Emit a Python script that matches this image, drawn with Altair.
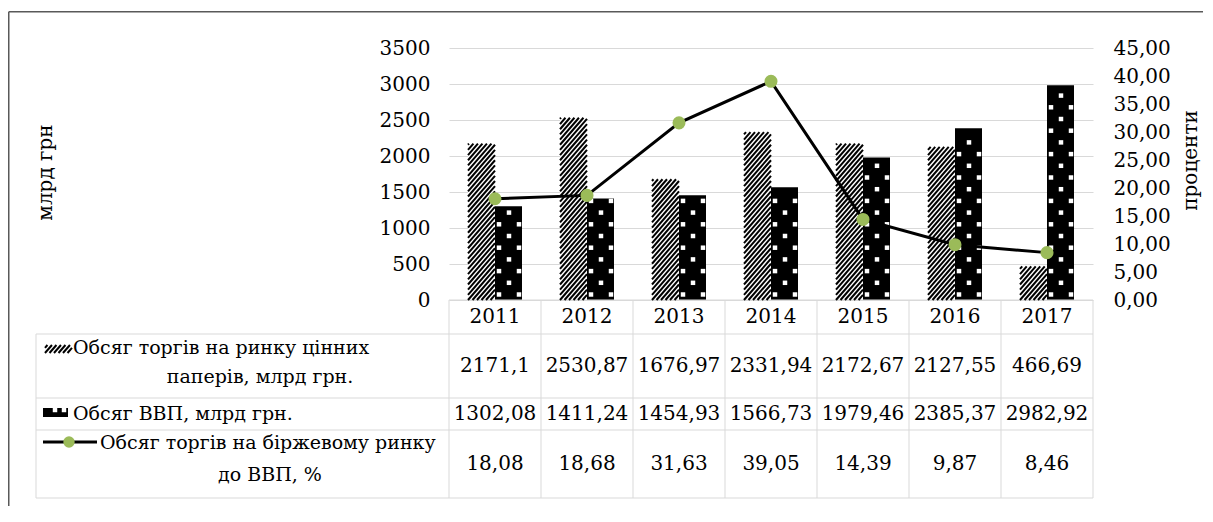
import math
import altair as alt
import pandas as pd

# ---------------- data ----------------
years = ["2011", "2012", "2013", "2014", "2015", "2016", "2017"]
securities = [2171.1, 2530.87, 1676.97, 2331.94, 2172.67, 2127.55, 466.69]
gdp = [1302.08, 1411.24, 1454.93, 1566.73, 1979.46, 2385.37, 2982.92]
ratio = [18.08, 18.68, 31.63, 39.05, 14.39, 9.87, 8.46]
left_ticks = [0, 500, 1000, 1500, 2000, 2500, 3000, 3500]
right_ticks = [0, 5, 10, 15, 20, 25, 30, 35, 40, 45]
label_sec = ["Обсяг торгів на ринку цінних", "паперів, млрд грн."]
label_gdp = ["Обсяг ВВП, млрд грн."]
label_ratio = ["Обсяг торгів на біржевому ринку", "до ВВП, %"]
title_left = "млрд грн"
title_right = "проценти"

# ---------------- layout (pixels relative to the plot area's top-left) ----------------
N = len(years)
COL = 92.0
PW = COL * N
PH = 252.0
YMAX = left_ticks[-1]
PMAX = right_ticks[-1]
BAR_W = 27.0
FONT = "DejaVu Serif"
FS = 20
FS_LBL = 19
GRID = "#D9D9D9"
GREEN = "#9BBB59"
FRAME = "#595959"


def ux(px):
    return px / COL


def uy(py):
    return (PH - py) * YMAX / PH


def hatch(left, top, w, h, period=4.5, slope=1.15):
    segs = []
    c = math.floor((-h / slope) / period) * period
    bottom = top + h
    while c < w:
        xa = max(0.0, c)
        xb = min(w, c + h / slope)
        if xb > xa + 0.05:
            segs.append((left + xa, bottom - slope * (xa - c), left + xb, bottom - slope * (xb - c)))
        c += period
    return segs


def dots(left, top, w, h, dy=11.7, start=5.5):
    pts = []
    k, u = 0, start
    while u <= h - 2.5:
        offs = (4.0, 24.0) if k % 2 == 0 else (14.0,)
        for o in offs:
            if o <= w - 2.5:
                pts.append((left + o, top + h - u))
        k += 1
        u += dy
    return pts


bar_rows = []
hatch_rows = []
dot_rows = []
for i, (yr, s, g) in enumerate(zip(years, securities, gdp)):
    c = i + 0.5
    bar_rows.append(dict(year=yr, series="sec", x0=c - BAR_W / COL, x1=c, v=s))
    bar_rows.append(dict(year=yr, series="gdp", x0=c, x1=c + BAR_W / COL, v=g))
    hs = s * PH / YMAX
    hatch_rows += hatch(c * COL - BAR_W, PH - hs, BAR_W, hs)
    hg = g * PH / YMAX
    dot_rows += dots(c * COL, PH - hg, BAR_W, hg)

# legend icons
hatch_rows += hatch(-404, 297, 27, 8)
dot_rows += [(-394, 362), (-385, 362)]

bars_df = pd.DataFrame(bar_rows)
hatch_df = pd.DataFrame([dict(xa=ux(a), ya=uy(b), xb=ux(c), yb=uy(d)) for a, b, c, d in hatch_rows])
dots_df = pd.DataFrame([dict(x=ux(a), y=uy(b)) for a, b in dot_rows])

# table grid lines
tl = []
for py in [286, 350, 382, 450]:
    tl.append((-413, py, PW, py))
tl.append((0, PH, PW, PH))
tl.append((-413, 286, -413, 450))
for i in range(N + 1):
    tl.append((i * COL, PH, i * COL, 450))
table_df = pd.DataFrame([dict(xa=ux(a), ya=uy(b), xb=ux(c), yb=uy(d)) for a, b, c, d in tl])

fr = [(-440.25, -36.3, -440.25, 470), (-440.25, -36.3, 770, -36.3)]
frame_df = pd.DataFrame([dict(xa=ux(a), ya=uy(b), xb=ux(c), yb=uy(d)) for a, b, c, d in fr])


def fmt(v):
    return str(v).replace(".", ",")


ctext = []
for i, yr in enumerate(years):
    ctext.append(dict(x=i + 0.5, y=uy(269), t=yr))
    ctext.append(dict(x=i + 0.5, y=uy(318), t=fmt(securities[i])))
    ctext.append(dict(x=i + 0.5, y=uy(366), t=fmt(gdp[i])))
    ctext.append(dict(x=i + 0.5, y=uy(416), t=fmt(ratio[i])))
ctext_df = pd.DataFrame(ctext)

clabel_df = pd.DataFrame([
    dict(x=ux(-189), y=uy(329), t=label_sec[1]),
    dict(x=ux(-179), y=uy(427), t=label_ratio[1]),
])

ltext_df = pd.DataFrame([
    dict(x=ux(-376), y=uy(300), t=label_sec[0]),
    dict(x=ux(-376), y=uy(366), t=label_gdp[0]),
    dict(x=ux(-349), y=uy(395), t=label_ratio[0]),
])

icon_rect_df = pd.DataFrame([
    dict(x0=ux(-404), x1=ux(-377), y0=uy(297), y1=uy(305), f="white"),
    dict(x0=ux(-406), x1=ux(-381), y0=uy(360), y1=uy(369), f="black"),
])
icon_line_df = pd.DataFrame([dict(xa=ux(-406), xb=ux(-352), y=uy(394))])
icon_pt_df = pd.DataFrame([dict(x=ux(-380), y=uy(394))])

line_df = pd.DataFrame({"x": [i + 0.5 for i in range(N)], "r": ratio, "year": years})

# ---------------- scales / axes ----------------
XS = alt.Scale(domain=[0, N], nice=False, zero=False)
YL = alt.Scale(domain=[0, YMAX], nice=False, zero=False)
YR = alt.Scale(domain=[0, PMAX], nice=False, zero=False)

AX_L = alt.Axis(orient="left", values=left_ticks, format="d", title=title_left, grid=True,
                gridColor=GRID, gridWidth=1, domain=False, ticks=False, labelPadding=19,
                labelFont=FONT, labelFontSize=FS, labelColor="black",
                titleFont=FONT, titleFontSize=FS, titleFontWeight="normal", titleColor="black",
                titleAngle=270, titleX=-404, titleY=124, titleAlign="center", titleBaseline="middle")
AX_R = alt.Axis(orient="right", values=right_ticks, title=title_right, grid=False,
                labelExpr="replace(format(datum.value, '.2f'), '.', ',')",
                domain=False, ticks=False, labelPadding=20,
                labelFont=FONT, labelFontSize=FS, labelColor="black",
                titleFont=FONT, titleFontSize=FS, titleFontWeight="normal", titleColor="black",
                titleAngle=270, titleX=97, titleY=112, titleAlign="center", titleBaseline="middle")


def X(f):
    return alt.X(f, type="quantitative", scale=XS, axis=None)


def Y(f, axis=None):
    return alt.Y(f, type="quantitative", scale=YL, axis=axis)


bars = alt.Chart(bars_df).mark_bar().encode(
    x=X("x0"), x2="x1", y=Y("v", AX_L), y2=alt.datum(0),
    color=alt.Color("series:N", scale=alt.Scale(domain=["sec", "gdp"], range=["white", "black"]), legend=None),
)
hatch_l = alt.Chart(hatch_df).mark_rule(color="black", strokeWidth=2.0).encode(
    x=X("xa"), x2="xb", y=Y("ya"), y2="yb")
dots_l = alt.Chart(dots_df).mark_square(size=20, color="white", opacity=1).encode(
    x=X("x"), y=Y("y"))
table_l = alt.Chart(table_df).mark_rule(color=GRID, strokeWidth=1).encode(
    x=X("xa"), x2="xb", y=Y("ya"), y2="yb")
frame_l = alt.Chart(frame_df).mark_rule(color=FRAME, strokeWidth=1.5).encode(
    x=X("xa"), x2="xb", y=Y("ya"), y2="yb")
ctext_l = alt.Chart(ctext_df).mark_text(font=FONT, fontSize=FS, color="black", align="center",
                                        baseline="middle").encode(x=X("x"), y=Y("y"), text="t:N")
clabel_l = alt.Chart(clabel_df).mark_text(font=FONT, fontSize=FS_LBL, color="black", align="center",
                                          baseline="middle").encode(x=X("x"), y=Y("y"), text="t:N")
ltext_l = alt.Chart(ltext_df).mark_text(font=FONT, fontSize=FS_LBL, color="black", align="left",
                                        baseline="middle").encode(x=X("x"), y=Y("y"), text="t:N")
icon_rect_l = alt.Chart(icon_rect_df).mark_rect().encode(
    x=X("x0"), x2="x1", y=Y("y0"), y2="y1", color=alt.Color("f:N", scale=None))
icon_line_l = alt.Chart(icon_line_df).mark_rule(color="black", strokeWidth=3).encode(
    x=X("xa"), x2="xb", y=Y("y"))
icon_pt_l = alt.Chart(icon_pt_df).mark_circle(size=130, color=GREEN, opacity=1).encode(
    x=X("x"), y=Y("y"))

line_l = alt.Chart(line_df).mark_line(color="black", strokeWidth=3).encode(
    x=X("x"), y=alt.Y("r", type="quantitative", scale=YR, axis=AX_R))
pts_l = alt.Chart(line_df).mark_circle(size=170, color=GREEN, opacity=1).encode(
    x=X("x"), y=alt.Y("r", type="quantitative", scale=YR, axis=None))

chart = alt.layer(
    bars, table_l, frame_l, icon_rect_l, hatch_l, dots_l, ctext_l, clabel_l, ltext_l,
    icon_line_l, icon_pt_l, line_l, pts_l
).resolve_scale(y="independent").properties(
    width=PW, height=PH,
    padding={"left": 441, "top": 40, "right": 110, "bottom": 206},
    autosize=alt.AutoSizeParams(type="none"),
    background="white",
).configure_view(stroke=None)

chart.save("out.html", embed_options={"renderer": "svg", "actions": False})
